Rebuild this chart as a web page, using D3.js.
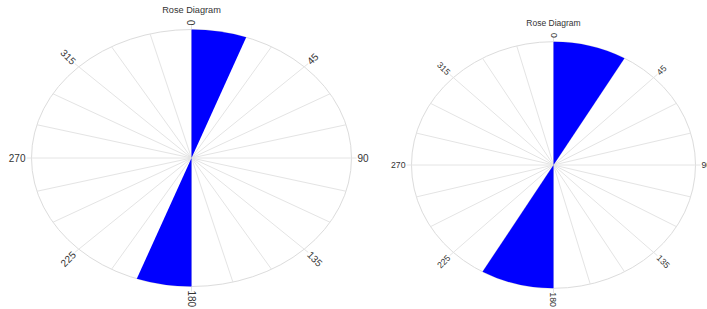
<!DOCTYPE html>
<html><head><meta charset="utf-8">
<script src="https://cdn.jsdelivr.net/npm/d3@7"></script>
<style>body{margin:0;background:#fff}svg{display:block}text{font-family:"Liberation Sans",Arial,sans-serif}</style>
</head><body><svg id="c" width="707" height="309"></svg>
<script>
// ---- data ----
const chartTitle = "Rose Diagram";
const spokeAngles = [0,15,30,45,60,75,90,105,120,135,150,165,180,195,210,225,240,255,270,285,300,315,330,345];
const labelAngles = [0,45,90,135,180,225,270,315];
const labelTexts = ["0","45","90","135","180","225","270","315"];
const leftBinStart = [0,180];
const leftBinEnd = [20,200];
const leftCounts = [1,1];
const rightBinStart = [0,180];
const rightBinEnd = [30,210];
const rightCounts = [1,1];

const svg = d3.select("#c");
const ang = d3.scaleLinear().domain([0,360]).range([0,2*Math.PI]);

function panel(o, starts, ends, counts){
  const g = svg.append("g");
  const rScale = d3.scaleLinear().domain([0, d3.max(counts)]).range([0,1]);
  const pt = (a, extra) => {
    const t = ang(a);
    return [o.cx + (o.rx + (extra||0))*Math.sin(t), o.cy - (o.ry + (extra||0))*Math.cos(t)];
  };
  // outline
  g.append("ellipse").attr("cx",o.cx).attr("cy",o.cy).attr("rx",o.rx).attr("ry",o.ry)
    .attr("fill","none").attr("stroke","#dcdcdc").attr("stroke-width",1);
  // spokes
  g.selectAll("line.sp").data(spokeAngles).join("line").attr("class","sp")
    .attr("x1",o.cx).attr("y1",o.cy)
    .attr("x2",d=>pt(d, labelAngles.includes(d)?5:0)[0])
    .attr("y2",d=>pt(d, labelAngles.includes(d)?5:0)[1])
    .attr("stroke","#e4e4e4").attr("stroke-width",1);
  // wedges
  const arc = d3.arc().innerRadius(0);
  const wg = g.append("g").attr("transform",`translate(${o.cx},${o.cy}) scale(${o.rx},${o.ry})`);
  wg.selectAll("path").data(counts.map((c,i)=>({s:starts[i],e:ends[i],c}))).join("path")
    .attr("d",d=>arc({startAngle:ang(d.s),endAngle:ang(d.e),outerRadius:rScale(d.c)}))
    .attr("fill","#0000ff");
  // labels
  labelAngles.forEach((a,i)=>{
    const d = a===0||a===180 ? o.dv : o.dh;
    const p = pt(a, d);
    let rot = a - 90;
    let anchor = "start";
    if (rot > 90) { rot -= 180; anchor = "end"; }
    if (a === 0) { rot = -90; anchor = "start"; }
    g.append("text").attr("transform",`translate(${p[0]},${p[1]}) rotate(${rot})`)
      .attr("text-anchor",anchor).attr("dy","0.35em")
      .attr("font-size",o.fs).attr("fill","#333").text(labelTexts[i]);
  });
  g.append("text").attr("x",o.cx).attr("y",o.ty).attr("text-anchor","middle")
    .attr("font-size",o.tfs).attr("fill","#333").text(chartTitle);
}

panel({cx:191.5, cy:158, rx:160, ry:128.5, fs:10, tfs:9.2, ty:12.5, dh:6, dv:4}, leftBinStart, leftBinEnd, leftCounts);
panel({cx:553.5, cy:165, rx:142, ry:123.3, fs:8.7, tfs:8.5, ty:26, dh:6, dv:4}, rightBinStart, rightBinEnd, rightCounts);
</script></body></html>
